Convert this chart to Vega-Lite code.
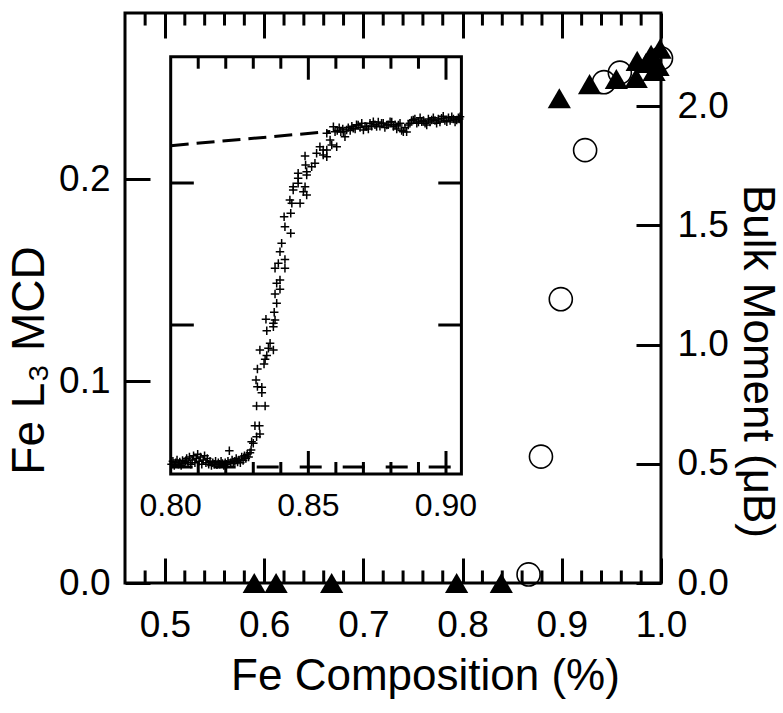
{
  "$schema": "https://vega.github.io/schema/vega-lite/v6.json",
  "width": 536,
  "height": 570,
  "autosize": {"type": "none"},
  "padding": {"left": 125, "top": 13, "right": 122, "bottom": 130},
  "background": "white",
  "config": {
    "view": {"stroke": "black", "strokeWidth": 3},
    "axis": {"domain": false, "grid": false, "tickColor": "black", "tickWidth": 3, "labelColor": "black", "labelFont": "Liberation Sans", "titleFont": "Liberation Sans", "titleColor": "black", "titleFontWeight": "normal", "labelFlush": false, "labelOverlap": false, "labelBound": false}
  },
  "datasets": {
    "tri": [
      {"x": 0.590, "mcd": 0}, {"x": 0.612, "mcd": 0}, {"x": 0.668, "mcd": 0}, {"x": 0.794, "mcd": 0}, {"x": 0.839, "mcd": 0},
      {"x": 0.8975, "mcd": 0.2400}, {"x": 0.928, "mcd": 0.2470}, {"x": 0.955, "mcd": 0.2495}, {"x": 0.975, "mcd": 0.2500},
      {"x": 0.976, "mcd": 0.2585}, {"x": 0.985, "mcd": 0.2575}, {"x": 0.990, "mcd": 0.2615}, {"x": 0.993, "mcd": 0.2535},
      {"x": 0.997, "mcd": 0.2560}, {"x": 0.999, "mcd": 0.2645}
    ],
    "circ": [
      {"x": 0.8665, "m": 0.036}, {"x": 0.879, "m": 0.53}, {"x": 0.899, "m": 1.19}, {"x": 0.9235, "m": 1.815},
      {"x": 0.9425, "m": 2.10}, {"x": 0.9585, "m": 2.14}, {"x": 1.0, "m": 2.20}
    ],
    "minorMain": [
      {"v": 0.48}, {"v": 0.52}, {"v": 0.54}, {"v": 0.56}, {"v": 0.58}, {"v": 0.62}, {"v": 0.64}, {"v": 0.66}, {"v": 0.68},
      {"v": 0.72}, {"v": 0.74}, {"v": 0.76}, {"v": 0.78}, {"v": 0.82}, {"v": 0.84}, {"v": 0.86}, {"v": 0.88},
      {"v": 0.92}, {"v": 0.94}, {"v": 0.96}, {"v": 0.98}
    ],
    "one": [{"name": "inset"}],
    "insetMinor": [{"v": 0.81}, {"v": 0.82}, {"v": 0.83}, {"v": 0.84}, {"v": 0.86}, {"v": 0.87}, {"v": 0.88}, {"v": 0.89}],
    "insetMajor": [{"v": 0.85}, {"v": 0.90}],
    "insetY": [{"v": 1}, {"v": 2}],
    "insetLabels": [{"v": 0.80, "label": "0.80"}, {"v": 0.85, "label": "0.85"}, {"v": 0.90, "label": "0.90"}],
    "dashes": [
      {"seg": "top", "x": 0.80, "y": 2.263}, {"seg": "top", "x": 0.858, "y": 2.363},
      {"seg": "bottom", "x": 0.80, "y": 0}, {"seg": "bottom", "x": 0.9056, "y": 0}
    ],
    "mcdScan": [
      {"x":0.8003,"y":0.02},{"x":0.8008,"y":0.04},{"x":0.8013,"y":0.01},{"x":0.8018,"y":0.03},{"x":0.8023,"y":0.05},{"x":0.8028,"y":0.02},
      {"x":0.8033,"y":0.035},{"x":0.8038,"y":0.01},{"x":0.8043,"y":0.045},{"x":0.8048,"y":0.025},{"x":0.8053,"y":0.04},{"x":0.8058,"y":0.06},
      {"x":0.8063,"y":0.03},{"x":0.8068,"y":0.07},{"x":0.8073,"y":0.02},{"x":0.8078,"y":0.05},{"x":0.8083,"y":0.08},{"x":0.8088,"y":0.03},
      {"x":0.8093,"y":0.06},{"x":0.8098,"y":0.09},{"x":0.8103,"y":0.04},{"x":0.8108,"y":0.07},{"x":0.8113,"y":0.02},{"x":0.8118,"y":0.05},
      {"x":0.8123,"y":0.08},{"x":0.8128,"y":0.03},{"x":0.8133,"y":0.06},{"x":0.8138,"y":0.02},{"x":0.8143,"y":0.04},{"x":0.8148,"y":0.01},
      {"x":0.8153,"y":0.03},{"x":0.8158,"y":0.02},{"x":0.8163,"y":0.04},{"x":0.8168,"y":0.015},{"x":0.8173,"y":0.03},{"x":0.8178,"y":0.02},
      {"x":0.8183,"y":0.04},{"x":0.8188,"y":0.025},{"x":0.8193,"y":0.01},{"x":0.8198,"y":0.03},{"x":0.8203,"y":0.02},{"x":0.8208,"y":0.04},
      {"x":0.8213,"y":0.115},{"x":0.8218,"y":0.03},{"x":0.8223,"y":0.05},{"x":0.8228,"y":0.025},{"x":0.8233,"y":0.04},{"x":0.8238,"y":0.06},
      {"x":0.8243,"y":0.035},{"x":0.8248,"y":0.05},{"x":0.8253,"y":0.03},{"x":0.8258,"y":0.07},{"x":0.8263,"y":0.045},{"x":0.8268,"y":0.08},
      {"x":0.8273,"y":0.06},{"x":0.8278,"y":0.09},{"x":0.8283,"y":0.07},{"x":0.8288,"y":0.1},{"x":0.8292,"y":0.12},
      {"x":0.8294,"y":0.178},{"x":0.8312,"y":0.213},{"x":0.8324,"y":0.232},{"x":0.8300,"y":0.167},{"x":0.8306,"y":0.291},{"x":0.8322,"y":0.291},
      {"x":0.8312,"y":0.430},{"x":0.8343,"y":0.430},{"x":0.8310,"y":0.613},{"x":0.8315,"y":0.566},{"x":0.8331,"y":0.561},{"x":0.8331,"y":0.523},
      {"x":0.8315,"y":0.690},{"x":0.8339,"y":0.725},{"x":0.8343,"y":0.758},{"x":0.8349,"y":0.786},{"x":0.8324,"y":0.824},{"x":0.8355,"y":0.836},
      {"x":0.8373,"y":0.824},{"x":0.8361,"y":0.871},{"x":0.8349,"y":0.960},{"x":0.8373,"y":0.988},{"x":0.8346,"y":1.040},{"x":0.8379,"y":1.035},
      {"x":0.8373,"y":1.012},{"x":0.8376,"y":1.089},{"x":0.8385,"y":1.153},{"x":0.8379,"y":1.218},{"x":0.8397,"y":1.251},{"x":0.8385,"y":1.294},
      {"x":0.8397,"y":1.317},{"x":0.8379,"y":1.399},{"x":0.8391,"y":1.434},{"x":0.8415,"y":1.399},{"x":0.8415,"y":1.462},{"x":0.8397,"y":1.516},
      {"x":0.8403,"y":1.575},{"x":0.8436,"y":1.646},{"x":0.8415,"y":1.692},{"x":0.8412,"y":1.763},{"x":0.8436,"y":1.787},{"x":0.8440,"y":1.857},
      {"x":0.8470,"y":1.857},{"x":0.8433,"y":1.880},{"x":0.8445,"y":1.951},{"x":0.8463,"y":1.998},{"x":0.8445,"y":1.974},{"x":0.8488,"y":1.974},
      {"x":0.8494,"y":1.915},{"x":0.8482,"y":1.939},{"x":0.8463,"y":2.033},{"x":0.8463,"y":2.068},{"x":0.8494,"y":2.056},{"x":0.8490,"y":2.127},
      {"x":0.8494,"y":2.080},{"x":0.8512,"y":2.115},{"x":0.8524,"y":2.139},{"x":0.8488,"y":2.190},{"x":0.8530,"y":2.209},{"x":0.8554,"y":2.232},
      {"x":0.8542,"y":2.256},{"x":0.8567,"y":2.232},{"x":0.8567,"y":2.185},{"x":0.8554,"y":2.197},{"x":0.8585,"y":2.268},{"x":0.8603,"y":2.256},
      {"x":0.8579,"y":2.303},{"x":0.8567,"y":2.350},{"x":0.8591,"y":2.397},{"x":0.8597,"y":2.361},{"x":0.8627,"y":2.361},{"x":0.8639,"y":2.373},
      {"x":0.8633,"y":2.326},{"x":0.8663,"y":2.385},{"x":0.8681,"y":2.408},{"x":0.8700,"y":2.373},{"x":0.8712,"y":2.397},{"x":0.8736,"y":2.432},
      {"x":0.8748,"y":2.397},{"x":0.8766,"y":2.420},{"x":0.8785,"y":2.408},{"x":0.8797,"y":2.432},{"x":0.8809,"y":2.397},{"x":0.8827,"y":2.408},
      {"x":0.8845,"y":2.361},{"x":0.8863,"y":2.408},{"x":0.8881,"y":2.444},{"x":0.8894,"y":2.420},{"x":0.8912,"y":2.432},{"x":0.8930,"y":2.408},
      {"x":0.8948,"y":2.444},{"x":0.8966,"y":2.420},{"x":0.8984,"y":2.456},{"x":0.9003,"y":2.432},{"x":0.9021,"y":2.467},{"x":0.9039,"y":2.444},
      {"x":0.9051,"y":2.467},
      {"x":0.8605,"y":2.37},{"x":0.8612,"y":2.39},{"x":0.8618,"y":2.36},{"x":0.8625,"y":2.38},{"x":0.8645,"y":2.39},{"x":0.8652,"y":2.37},
      {"x":0.8658,"y":2.40},{"x":0.8670,"y":2.38},{"x":0.8675,"y":2.41},{"x":0.8688,"y":2.39},{"x":0.8694,"y":2.42},{"x":0.8706,"y":2.40},
      {"x":0.8718,"y":2.38},{"x":0.8724,"y":2.42},{"x":0.8730,"y":2.40},{"x":0.8742,"y":2.41},{"x":0.8754,"y":2.43},{"x":0.8760,"y":2.40},
      {"x":0.8772,"y":2.42},{"x":0.8778,"y":2.39},{"x":0.8790,"y":2.41},{"x":0.8803,"y":2.43},{"x":0.8815,"y":2.41},{"x":0.8821,"y":2.38},
      {"x":0.8833,"y":2.42},{"x":0.8839,"y":2.37},{"x":0.8851,"y":2.39},{"x":0.8857,"y":2.36},{"x":0.8869,"y":2.42},{"x":0.8875,"y":2.44},
      {"x":0.8887,"y":2.45},{"x":0.8900,"y":2.43},{"x":0.8906,"y":2.46},{"x":0.8918,"y":2.44},{"x":0.8924,"y":2.42},{"x":0.8936,"y":2.45},
      {"x":0.8942,"y":2.43},{"x":0.8954,"y":2.46},{"x":0.8960,"y":2.44},{"x":0.8972,"y":2.45},{"x":0.8978,"y":2.43},{"x":0.8990,"y":2.47},
      {"x":0.8996,"y":2.44},{"x":0.9009,"y":2.46},{"x":0.9015,"y":2.44},{"x":0.9027,"y":2.45},{"x":0.9033,"y":2.43},{"x":0.9045,"y":2.46},
      {"x":0.9048,"y":2.45}
    ]
  },
  "resolve": {"scale": {"x": "independent", "y": "independent"}},
  "layer": [
    {
      "data": {"name": "tri"},
      "mark": {"type": "point", "shape": "triangle-up", "filled": true, "color": "black", "size": 540, "opacity": 1},
      "encoding": {
        "x": {"field": "x", "type": "quantitative", "scale": {"domain": [0.4597, 1.0], "nice": false, "zero": false},
          "axis": {"orient": "bottom", "values": [0.5, 0.6, 0.7, 0.8, 0.9, 1.0], "format": ".1f", "tickSize": -25, "labelFontSize": 37, "labelPadding": 49,
            "title": "Fe Composition (%)", "titleFontSize": 44, "titleX": 300, "titleY": 106, "titleBaseline": "alphabetic", "titleAlign": "center"}},
        "y": {"field": "mcd", "type": "quantitative", "scale": {"domain": [0, 0.2822], "nice": false, "zero": false},
          "axis": {"orient": "left", "values": [0, 0.1, 0.2], "format": ".1f", "tickSize": -25, "labelFontSize": 37, "labelPadding": 40,
            "title": "Fe L₃ MCD", "titleFontSize": 46, "titleAngle": 270, "titleX": -82, "titleY": 347, "titleBaseline": "alphabetic", "titleAlign": "center"}}
      }
    },
    {
      "data": {"name": "circ"},
      "mark": {"type": "point", "shape": "circle", "filled": false, "stroke": "black", "strokeWidth": 1.6, "size": 531, "opacity": 1},
      "encoding": {
        "x": {"field": "x", "type": "quantitative", "scale": {"domain": [0.4597, 1.0], "nice": false, "zero": false},
          "axis": {"orient": "top", "values": [0.5, 0.6, 0.7, 0.8, 0.9, 1.0], "labels": false, "tickSize": -25, "title": null}},
        "y": {"field": "m", "type": "quantitative", "scale": {"domain": [0, 2.39], "nice": false, "zero": false},
          "axis": {"orient": "right", "values": [0, 0.5, 1, 1.5, 2], "format": ".1f", "tickSize": -25, "labelFontSize": 37, "labelPadding": 41,
            "title": "Bulk Moment (μB)", "titleFontSize": 44, "titleAngle": 90, "titleX": 82, "titleY": 348, "titleBaseline": "alphabetic", "titleAlign": "center"}}
      }
    },
    {
      "data": {"name": "minorMain"},
      "mark": {"type": "rule", "color": "black", "strokeWidth": 3},
      "encoding": {
        "x": {"field": "v", "type": "quantitative", "scale": {"domain": [0.4597, 1.0], "nice": false, "zero": false}, "axis": null},
        "y": {"datum": 0, "type": "quantitative", "scale": {"domain": [0, 0.2822], "nice": false, "zero": false}, "axis": null},
        "y2": {"datum": 0.0062}
      }
    },
    {
      "data": {"name": "minorMain"},
      "mark": {"type": "rule", "color": "black", "strokeWidth": 3},
      "encoding": {
        "x": {"field": "v", "type": "quantitative", "scale": {"domain": [0.4597, 1.0], "nice": false, "zero": false}, "axis": null},
        "y": {"datum": 0.2822, "type": "quantitative", "scale": {"domain": [0, 0.2822], "nice": false, "zero": false}, "axis": null},
        "y2": {"datum": 0.2760}
      }
    },
    {
      "data": {"name": "one"},
      "mark": {"type": "rect", "fill": "white", "stroke": "black", "strokeWidth": 3},
      "encoding": {
        "x": {"datum": 0.80, "type": "quantitative", "scale": {"domain": [0.7834, 0.9781], "nice": false, "zero": false}, "axis": null},
        "x2": {"datum": 0.9056},
        "y": {"datum": -0.0493, "type": "quantitative", "scale": {"domain": [-0.8169, 3.1972], "nice": false, "zero": false}, "axis": null},
        "y2": {"datum": 2.8894}
      }
    },
    {
      "data": {"name": "insetMinor"},
      "mark": {"type": "rule", "color": "black", "strokeWidth": 3},
      "encoding": {
        "x": {"field": "v", "type": "quantitative", "scale": {"domain": [0.7834, 0.9781], "nice": false, "zero": false}, "axis": null},
        "y": {"datum": 2.8894, "type": "quantitative", "scale": {"domain": [-0.8169, 3.1972], "nice": false, "zero": false}, "axis": null},
        "y2": {"datum": 2.8049}
      }
    },
    {
      "data": {"name": "insetMajor"},
      "mark": {"type": "rule", "color": "black", "strokeWidth": 3},
      "encoding": {
        "x": {"field": "v", "type": "quantitative", "scale": {"domain": [0.7834, 0.9781], "nice": false, "zero": false}, "axis": null},
        "y": {"datum": 2.8894, "type": "quantitative", "scale": {"domain": [-0.8169, 3.1972], "nice": false, "zero": false}, "axis": null},
        "y2": {"datum": 2.7274}
      }
    },
    {
      "data": {"name": "insetMinor"},
      "mark": {"type": "rule", "color": "black", "strokeWidth": 3},
      "encoding": {
        "x": {"field": "v", "type": "quantitative", "scale": {"domain": [0.7834, 0.9781], "nice": false, "zero": false}, "axis": null},
        "y": {"datum": -0.0493, "type": "quantitative", "scale": {"domain": [-0.8169, 3.1972], "nice": false, "zero": false}, "axis": null},
        "y2": {"datum": 0.0352}
      }
    },
    {
      "data": {"name": "insetMajor"},
      "mark": {"type": "rule", "color": "black", "strokeWidth": 3},
      "encoding": {
        "x": {"field": "v", "type": "quantitative", "scale": {"domain": [0.7834, 0.9781], "nice": false, "zero": false}, "axis": null},
        "y": {"datum": -0.0493, "type": "quantitative", "scale": {"domain": [-0.8169, 3.1972], "nice": false, "zero": false}, "axis": null},
        "y2": {"datum": 0.1127}
      }
    },
    {
      "data": {"name": "insetY"},
      "mark": {"type": "rule", "color": "black", "strokeWidth": 3},
      "encoding": {
        "x": {"datum": 0.80, "type": "quantitative", "scale": {"domain": [0.7834, 0.9781], "nice": false, "zero": false}, "axis": null},
        "x2": {"datum": 0.8084},
        "y": {"field": "v", "type": "quantitative", "scale": {"domain": [-0.8169, 3.1972], "nice": false, "zero": false}, "axis": null}
      }
    },
    {
      "data": {"name": "insetY"},
      "mark": {"type": "rule", "color": "black", "strokeWidth": 3},
      "encoding": {
        "x": {"datum": 0.9056, "type": "quantitative", "scale": {"domain": [0.7834, 0.9781], "nice": false, "zero": false}, "axis": null},
        "x2": {"datum": 0.8972},
        "y": {"field": "v", "type": "quantitative", "scale": {"domain": [-0.8169, 3.1972], "nice": false, "zero": false}, "axis": null}
      }
    },
    {
      "data": {"name": "dashes"},
      "mark": {"type": "line", "color": "black", "strokeWidth": 3},
      "encoding": {
        "x": {"field": "x", "type": "quantitative", "scale": {"domain": [0.7834, 0.9781], "nice": false, "zero": false}, "axis": null},
        "y": {"field": "y", "type": "quantitative", "scale": {"domain": [-0.8169, 3.1972], "nice": false, "zero": false}, "axis": null},
        "detail": {"field": "seg", "type": "nominal"},
        "strokeDash": {"field": "seg", "type": "nominal", "scale": {"domain": ["top", "bottom"], "range": [[18, 8], [22, 21]]}, "legend": null}
      }
    },
    {
      "data": {"name": "mcdScan"},
      "mark": {"type": "point", "shape": "M-1,0L1,0M0,-1L0,1", "filled": false, "stroke": "black", "strokeWidth": 1.5, "size": 72, "opacity": 1},
      "encoding": {
        "x": {"field": "x", "type": "quantitative", "scale": {"domain": [0.7834, 0.9781], "nice": false, "zero": false}, "axis": null},
        "y": {"field": "y", "type": "quantitative", "scale": {"domain": [-0.8169, 3.1972], "nice": false, "zero": false}, "axis": null}
      }
    },
    {
      "data": {"name": "insetLabels"},
      "mark": {"type": "text", "font": "Liberation Sans", "fontSize": 32, "color": "black", "align": "center", "baseline": "middle"},
      "encoding": {
        "x": {"field": "v", "type": "quantitative", "scale": {"domain": [0.7834, 0.9781], "nice": false, "zero": false}, "axis": null},
        "y": {"datum": -0.275, "type": "quantitative", "scale": {"domain": [-0.8169, 3.1972], "nice": false, "zero": false}, "axis": null},
        "text": {"field": "label", "type": "nominal"}
      }
    }
  ]
}
